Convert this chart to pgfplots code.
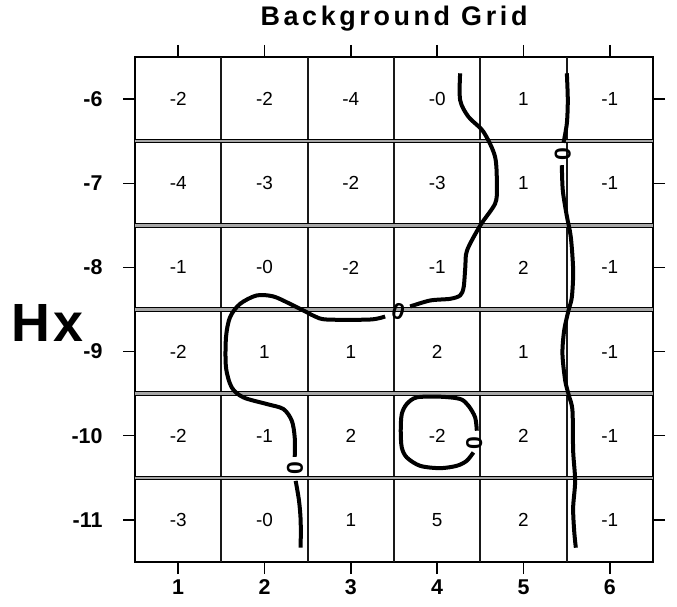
\documentclass[border=0pt]{standalone}
\usepackage{fontspec}
\setmainfont{Liberation Sans}
\usepackage{pgfplots}
\usepackage{pgfplotstable}
\pgfplotsset{compat=1.18}
\pgfplotstableread{
x y label
1 -6 -2
2 -6 -2
3 -6 -4
4 -6 -0
5 -6 1
6 -6 -1
1 -7 -4
2 -7 -3
3 -7 -2
4 -7 -3
5 -7 1
6 -7 -1
1 -8 -1
2 -8 -0
3 -8 -2
4 -8 -1
5 -8 2
6 -8 -1
1 -9 -2
2 -9 1
3 -9 1
4 -9 2
5 -9 1
6 -9 -1
1 -10 -2
2 -10 -1
3 -10 2
4 -10 -2
5 -10 2
6 -10 -1
1 -11 -3
2 -11 -0
3 -11 1
4 -11 5
5 -11 2
6 -11 -1
}\cells
\begin{document}
\begin{tikzpicture}
\begin{axis}[
  scale only axis, width=518bp, height=505bp,
  xmin=0.5, xmax=6.5, ymin=-11.5, ymax=-5.5,
  xtick={1,2,3,4,5,6}, ytick={-11,-10,-9,-8,-7,-6},
  xticklabels={1,2,3,4,5,6},
  yticklabels={-11,-10,-9,-8,-7,-6},
  xtick pos=both, ytick pos=both,
  xticklabel pos=bottom, yticklabel pos=left,
  tick align=outside,
  major tick length=12bp,
  major tick style={black, line width=1.4bp},
  axis line style={black, line width=2.2bp},
  tick label style={font=\fontsize{21.5}{24}\selectfont\bfseries},
  yticklabel style={xshift=-17bp},
  xticklabel style={yshift=-2bp},
  extra x ticks={1.5,2.5,3.5,4.5,5.5},
  extra x tick labels={},
  extra x tick style={grid=major, major tick length=0pt,
     major grid style={black!90, line width=2bp}},
  extra y ticks={-10.5,-9.5,-8.5,-7.5,-6.5},
  extra y tick labels={},
  extra y tick style={grid=major, major tick length=0pt,
     major grid style={draw=black, line width=1.1bp, double=gray!70, double distance=2.4bp}},
  title={\addfontfeature{LetterSpace=13.5}Background Grid},
  title style={font=\fontsize{27}{30}\selectfont\bfseries, at={(0.5,1)}, anchor=base, yshift=26bp},
  clip=false,
]
\addplot[only marks, mark=*, mark size=0pt, mark options={draw=none, fill=none},
  nodes near coords, nodes near coords align=center, point meta=explicit symbolic,
  every node near coord/.style={font=\fontsize{19}{21}\selectfont, black, anchor=center, inner sep=0pt}]
  table[x=x, y=y, meta=label] {\cells};
% contour A
\addplot[black, line width=4bp, smooth, tension=0.5] coordinates {
(4.266,-5.694)(4.266,-6.012)(4.362,-6.21)(4.536,-6.389)(4.671,-6.687)(4.691,-7.044)(4.671,-7.242)(4.5,-7.5)(4.346,-7.798)(4.326,-7.996)(4.307,-8.234)(4.266,-8.333)(4.15,-8.373)(3.918,-8.393)(3.687,-8.464)};
\addplot[black, line width=4bp, smooth, tension=0.5] coordinates {
(3.397,-8.583)(3.223,-8.619)(2.721,-8.619)(2.586,-8.583)(2.489,-8.532)(2.296,-8.433)(2.103,-8.345)(1.910,-8.333)(1.717,-8.433)(1.601,-8.591)(1.554,-8.830)(1.554,-9.187)(1.620,-9.425)(1.755,-9.544)(2.026,-9.623)(2.218,-9.682)(2.316,-9.821)(2.350,-10.020)(2.350,-10.25)};
\addplot[black, line width=4bp, smooth, tension=0.5] coordinates {
(2.361,-10.536)(2.4,-10.774)(2.419,-11.012)(2.419,-11.33)};
% loop B
\addplot[black, line width=4bp, smooth, tension=0.5] coordinates {
(4.459,-9.94)(4.44,-9.782)(4.362,-9.643)(4.266,-9.563)(4.034,-9.536)(3.764,-9.544)(3.648,-9.623)(3.590,-9.742)(3.578,-9.940)(3.590,-10.139)(3.648,-10.258)(3.802,-10.357)(4.034,-10.385)(4.227,-10.357)(4.342,-10.298)(4.420,-10.198)};
% contour C
\addplot[black, line width=4bp, smooth, tension=0.5] coordinates {
(5.502,-5.694)(5.513,-6.012)(5.502,-6.29)(5.463,-6.52)};
\addplot[black, line width=4bp, smooth, tension=0.5] coordinates {
(5.444,-6.786)(5.455,-7.083)(5.500,-7.38)(5.548,-7.64)(5.575,-8.036)(5.56,-8.353)(5.521,-8.512)(5.471,-8.75)(5.451,-9.027)(5.483,-9.345)(5.525,-9.52)(5.567,-9.70)(5.575,-10.179)(5.598,-10.536)(5.575,-10.853)(5.587,-11.131)(5.606,-11.33)};
% contour labels
\addplot[only marks, mark=*, mark size=0pt, mark options={draw=none, fill=none},
  nodes near coords={0}, nodes near coords align=center,
  every node near coord/.style={font=\fontsize{23}{25}\selectfont\bfseries, anchor=center, inner sep=0pt, rotate=-15}]
  coordinates {(3.55,-8.53)};
\addplot[only marks, mark=*, mark size=0pt, mark options={draw=none, fill=none},
  nodes near coords={0}, nodes near coords align=center,
  every node near coord/.style={font=\fontsize{23}{25}\selectfont\bfseries, anchor=center, inner sep=0pt, rotate=90}]
  coordinates {(2.352,-10.389)(4.43,-10.087)(5.455,-6.655)};
\node[font=\fontsize{54}{60}\selectfont\bfseries, anchor=base, xshift=-87.5bp] at (rel axis cs:0,0.4376) {\addfontfeature{LetterSpace=6}Hx};
\end{axis}
\pgfresetboundingbox
\path ([shift={(-135bp,-44bp)}]current axis.south west) rectangle ([shift={(24bp,57bp)}]current axis.north east);
\end{tikzpicture}
\end{document}
